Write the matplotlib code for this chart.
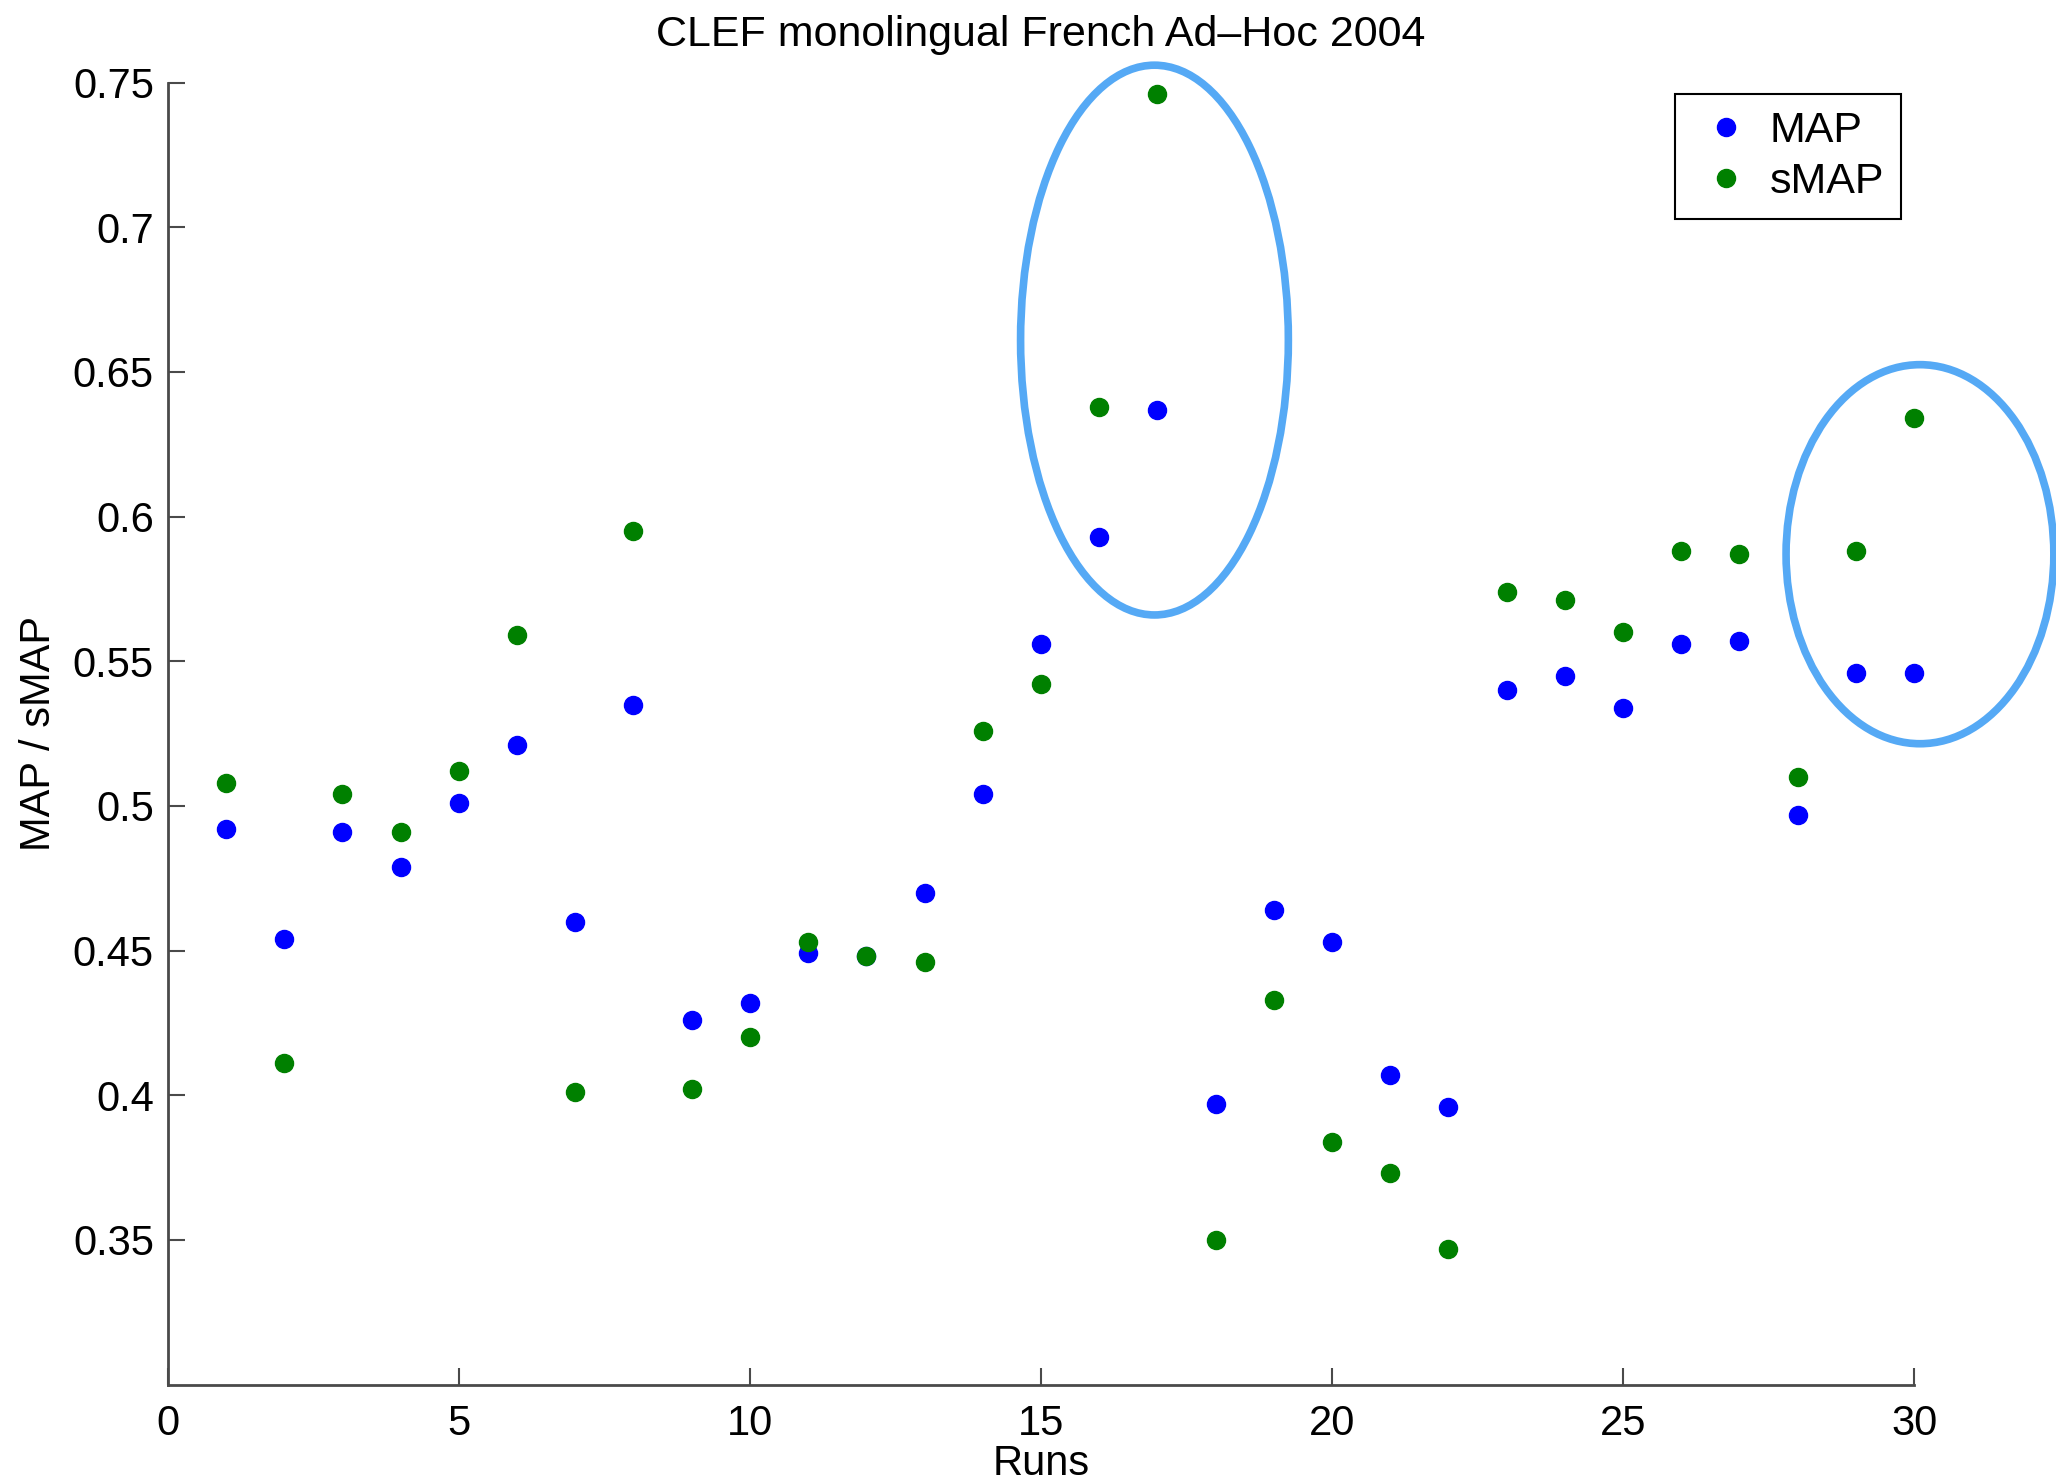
import numpy as np
import matplotlib
matplotlib.use('Agg')
import matplotlib.pyplot as plt
from matplotlib.patches import Ellipse

plt.rcParams['font.family'] = ['Liberation Sans', 'DejaVu Sans']

runs = list(range(1, 31))
map_scores = [0.492, 0.454, 0.491, 0.479, 0.501, 0.521, 0.460, 0.535, 0.426, 0.432,
              0.449, 0.448, 0.470, 0.504, 0.556, 0.593, 0.637, 0.397, 0.464, 0.453,
              0.407, 0.396, 0.540, 0.545, 0.534, 0.556, 0.557, 0.497, 0.546, 0.546]
smap_scores = [0.508, 0.411, 0.504, 0.491, 0.512, 0.559, 0.401, 0.595, 0.402, 0.420,
               0.453, 0.448, 0.446, 0.526, 0.542, 0.638, 0.746, 0.350, 0.433, 0.384,
               0.373, 0.347, 0.574, 0.571, 0.560, 0.588, 0.587, 0.510, 0.588, 0.634]

# hand drawn highlight ellipses: (x center, y center, width, height)
highlights = [(16.95, 0.661, 4.6, 0.190), (30.1, 0.587, 4.6, 0.131)]

fig = plt.figure(figsize=(20.56, 14.82), dpi=100)
ax = fig.add_axes([0.0816, 0.0657, 0.8494, 0.8786])

ax.plot(runs, map_scores, 'o', color='#0000ff', markersize=13, label='MAP', clip_on=False)
ax.plot(runs, smap_scores, 'o', color='#008000', markersize=13, label='sMAP', clip_on=False)

for cx, cy, w, h in highlights:
    ax.add_patch(Ellipse((cx, cy), w, h, fill=False, edgecolor='#55a9f5',
                         linewidth=5.5, clip_on=False, zorder=5))

ax.set_xlim(0, 30)
ax.set_ylim(0.3, 0.75)
ax.set_xticks([0, 5, 10, 15, 20, 25, 30])
ax.set_yticks([0.35, 0.4, 0.45, 0.5, 0.55, 0.6, 0.65, 0.7, 0.75])
ax.set_yticklabels(['0.35', '0.4', '0.45', '0.5', '0.55', '0.6', '0.65', '0.7', '0.75'])

for side in ['top', 'right']:
    ax.spines[side].set_visible(False)
for side in ['left', 'bottom']:
    ax.spines[side].set_color('#4a4a4a')
    ax.spines[side].set_linewidth(2)
ax.tick_params(direction='in', length=12, width=1.5, color='#4a4a4a',
               labelsize=30, pad=10)
ax.tick_params(axis='x', pad=14)

ax.set_title('CLEF monolingual French Ad\u2013Hoc 2004', fontsize=31, pad=26)
ax.set_xlabel('Runs', fontsize=30, labelpad=0)
ax.set_ylabel('MAP / sMAP', fontsize=30, labelpad=10)

leg = ax.legend(loc='upper right', bbox_to_anchor=(0.9925, 0.991), borderaxespad=0,
                fontsize=31, fancybox=False, edgecolor='black', framealpha=1,
                handletextpad=0.2, borderpad=0.4, labelspacing=0.25,
                handlelength=1.6)
leg.get_frame().set_linewidth(1.5)

plt.savefig('out.png', dpi=100)
